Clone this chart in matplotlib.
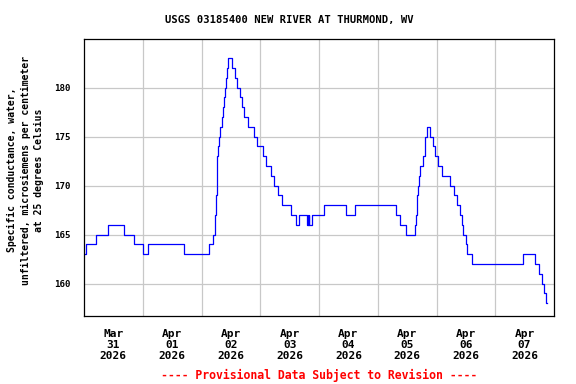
import matplotlib
matplotlib.use("Agg")
import matplotlib.pyplot as plt
from matplotlib.ticker import FixedLocator, NullFormatter, FixedFormatter

# Hours since 2026-03-31 00:00 and specific conductance (uS/cm) at each change
hours = [0.4, 0.8, 4.7, 9.6, 16.5, 20.6, 24.1, 26.1, 40.9, 51.2, 52.8, 53.4, 53.6,
         53.8, 54.0, 54.13, 54.21, 54.33, 54.45, 54.62, 54.95, 55.7, 56.25, 56.7,
         57.2, 57.7, 58.0, 58.5, 59.0, 60.5, 61.7, 62.5, 63.7, 64.5, 65.5, 67.0,
         69.4, 70.8, 73.0, 74.5, 76.4, 77.7, 79.2, 81.0, 84.4, 86.8, 88.0, 91.2,
         91.4, 91.6, 91.8, 92.0, 93.3, 98.0, 107.2, 110.7, 127.5, 129.1, 131.5,
         135.3, 135.75, 135.95, 136.16, 136.57, 136.97, 137.3, 138.5, 139.1, 139.4,
         140.1, 141.3, 142.4, 143.4, 144.6, 146.1, 149.7, 151.2, 152.2, 153.6,
         154.4, 154.8, 155.9, 156.5, 158.5, 179.5, 184.2, 185.9, 187.1, 188.0,
         188.9, 189.0]
values = [163, 164, 165, 166, 165, 164, 163, 164, 163, 164, 165, 166, 167,
          168, 169, 170, 171, 172, 173, 174, 175, 176, 177, 178,
          179, 180, 181, 182, 183, 182, 181, 180, 179, 178, 177, 176,
          175, 174, 173, 172, 171, 170, 169, 168, 167, 166, 167, 166,
          167, 166, 167, 166, 167, 168, 167, 168, 167, 166, 165,
          166, 167, 168, 169, 170, 171, 172, 173, 174, 175,
          176, 175, 174, 173, 172, 171, 170, 169, 168, 167,
          166, 165, 164, 163, 162, 163, 162, 161, 160, 159,
          158, 158]

day_labels = ["Mar\n31\n2026", "Apr\n01\n2026", "Apr\n02\n2026", "Apr\n03\n2026",
              "Apr\n04\n2026", "Apr\n05\n2026", "Apr\n06\n2026", "Apr\n07\n2026"]
y_ticks = [160, 165, 170, 175, 180]

title = "USGS 03185400 NEW RIVER AT THURMOND, WV"
ylabel = ("Specific conductance, water,\n"
          "unfiltered, microsiemens per centimeter\n"
          "at 25 degrees Celsius")
footer = "---- Provisional Data Subject to Revision ----"

FONT = "DejaVu Sans Mono"

fig = plt.figure(figsize=(5.76, 3.84), dpi=100)
ax = fig.add_axes([84 / 576, 1 - 316 / 384, 470 / 576, 277 / 384])

ax.plot(hours, values, color="#0000ff", lw=0.9, drawstyle="steps-post")

ax.set_xlim(0, 192)
ax.set_ylim(156.7, 184.95)

# grid at day boundaries, labels at mid-day
ax.xaxis.set_major_locator(FixedLocator([24 * i for i in range(1, 8)]))
ax.xaxis.set_major_formatter(NullFormatter())
ax.xaxis.set_minor_locator(FixedLocator([12 + 24 * i for i in range(8)]))
ax.xaxis.set_minor_formatter(FixedFormatter(day_labels))
ax.set_yticks(y_ticks)
ax.set_yticklabels([str(v) for v in y_ticks])

ax.grid(True, which="major", color="#c8c8c8", lw=0.9)
ax.set_axisbelow(True)
ax.tick_params(axis="both", which="both", length=0)
ax.tick_params(axis="x", which="minor", pad=9.5)
ax.tick_params(axis="y", pad=9.5)
for lab in ax.xaxis.get_minorticklabels():
    lab.set_fontfamily(FONT)
    lab.set_fontweight("bold")
    lab.set_fontsize(8)
    lab.set_linespacing(1.1)
for lab in ax.get_yticklabels():
    lab.set_fontfamily(FONT)
    lab.set_fontweight("bold")
    lab.set_fontsize(6.6)

for sp in ax.spines.values():
    sp.set_color("black")
    sp.set_linewidth(0.9)

fig.text(289.5 / 576, 1 - 20 / 384, title, ha="center", va="center",
         fontfamily=FONT, fontweight="bold", fontsize=7.6)
fig.text(25.7 / 576, 1 - 170 / 384, ylabel, ha="center", va="center",
         rotation=90, multialignment="center", linespacing=1.45,
         fontfamily=FONT, fontweight="bold", fontsize=7.0)
fig.text(319 / 576, 1 - 375 / 384, footer, ha="center", va="center",
         color="#ff0000", fontfamily=FONT, fontweight="bold", fontsize=8.3)

fig.savefig("out.png", dpi=100)
